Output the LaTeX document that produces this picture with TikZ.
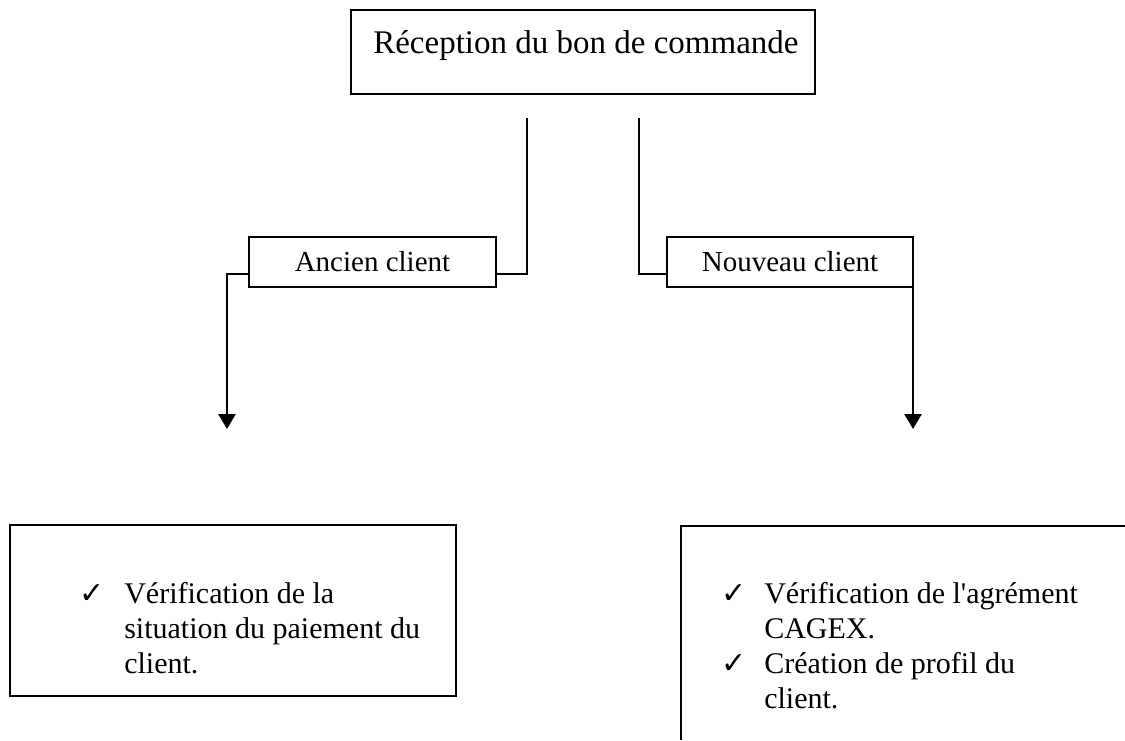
\documentclass[tikz,border=0pt]{standalone}
\usepackage{fontspec}
\setmainfont{Liberation Serif}
\newfontfamily\symfont{DejaVu Sans}
\usetikzlibrary{arrows.meta}

\begin{document}
\begin{tikzpicture}[x=1pt, y=-1pt,
  line width=2.6pt,
  box/.style={draw, line width=2.6pt, inner sep=0pt, outer sep=0pt},
  flow/.style={draw, line width=2.6pt, -{Triangle[width=17pt,length=15pt]}},
  titletext/.style={font=\fontsize{33}{38}\selectfont, inner sep=0pt, anchor=base west},
  labeltext/.style={font=\fontsize{29}{34}\selectfont},
  itemtext/.style={font=\fontsize{30}{35}\selectfont, inner sep=0pt, anchor=base west},
  tick/.style={font=\symfont\fontsize{30}{35}\selectfont, inner sep=0pt, anchor=base west},
]
\useasboundingbox (0,0) rectangle (1125,740);

% order reception
\node[box, minimum width=464pt, minimum height=84pt] (reception) at (583,52) {};
\node[titletext] (receptiontext) at (372,53) {Réception du bon de commande};

% branch labels
\node[box, labeltext, minimum width=247pt, minimum height=50pt] (ancien) at (372.5,262) {Ancien client};
\node[box, labeltext, minimum width=246pt, minimum height=50pt] (nouveau) at (790,262) {Nouveau client};

% branch connectors
\coordinate (splitL) at (527,118);
\coordinate (splitR) at (639,118);
\coordinate (tipL) at (227,429);
\coordinate (tipR) at (913,429);
\draw (splitL) |- ([yshift=-12pt]ancien.east);
\draw (splitR) |- ([yshift=-12pt]nouveau.west);
\draw[flow] ([yshift=-12pt]ancien.west) -| (tipL);
\draw[flow] ([yshift=-12pt]nouveau.east) -- (tipR);

% old customer checks
\node[box, minimum width=446pt, minimum height=171pt] (ancienbox) at (233,610.5) {};
\node[tick] (tickA1) at (78,603) {✓};
\node[itemtext] (a1) at (123,603) {Vérification de la};
\node[itemtext] (a2) at (123,638) {situation du paiement du};
\node[itemtext] (a3) at (123,673) {client.};

% new customer checks
\draw (1125,526) -- (681,526) -- (681,740);
\node[tick] (tickN1) at (720,603) {✓};
\node[itemtext] (n1) at (763,603) {Vérification de l\textquotesingle agrément};
\node[itemtext] (n2) at (763,638) {CAGEX.};
\node[tick] (tickN2) at (720,673) {✓};
\node[itemtext] (n3) at (763,673) {Création de profil du};
\node[itemtext] (n4) at (763,708) {client.};
\end{tikzpicture}
\end{document}
